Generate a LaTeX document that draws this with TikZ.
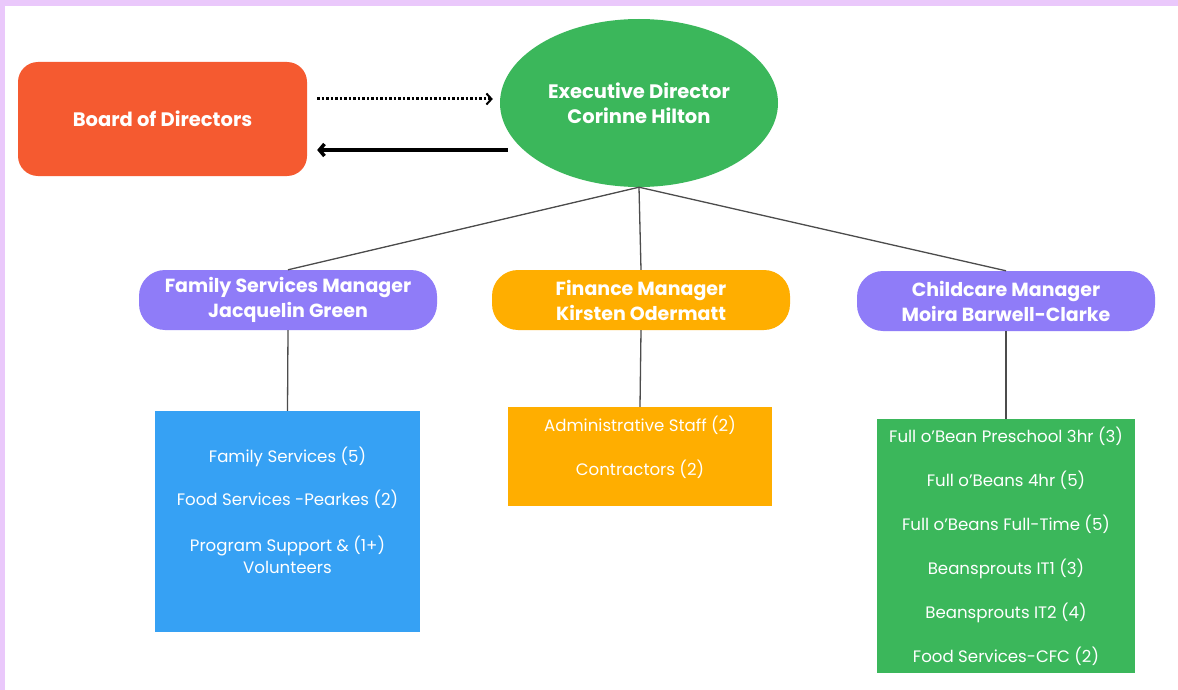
\documentclass[tikz,border=0pt]{standalone}
\usepackage{fontspec}
\setmainfont{Poppins}
\usetikzlibrary{shapes.geometric,arrows.meta}

\definecolor{boardred}{HTML}{F55A30}
\definecolor{execgreen}{HTML}{3BB75B}
\definecolor{mgrpurple}{HTML}{8F7CF8}
\definecolor{finorange}{HTML}{FFAE00}
\definecolor{staffblue}{HTML}{36A1F4}
\definecolor{framelilac}{HTML}{EAC8FB}

\begin{document}
\begin{tikzpicture}[x=1pt,y=-1pt,
    manager/.style={rounded corners=26pt,fill=#1,minimum width=298pt,minimum height=60pt,text=white,font=\fontsize{19}{25}\selectfont\bfseries,align=center},
    staff/.style={fill=#1,text=white,font=\fontsize{16.6}{22}\selectfont,align=center,inner sep=0pt},
    connector/.style={draw=black!70,line width=1.3pt}]
  % frame
  \fill[framelilac] (0,0) rectangle (1178,690);
  \fill[white] (5,6) rectangle (1178,690);
  \useasboundingbox (0,0) rectangle (1178,690);

  % top
  \node[fill=boardred,rounded corners=20pt,minimum width=289pt,minimum height=114pt,text=white,font=\fontsize{19.5}{25}\selectfont\bfseries] (board) at (162.5,119) {Board of Directors};
  \node[ellipse,fill=execgreen,minimum width=278pt,minimum height=168pt,inner sep=0pt,text=white,font=\fontsize{19.5}{25}\selectfont\bfseries,align=center] (exec) at (639,103) {Executive Director\\Corinne Hilton};
  \draw[line width=3pt,dash pattern=on 2.5pt off 2pt,-{Straight Barb[length=5pt,width=11pt,line width=2pt]}] ([shift={(10,-20)}]board.east) -- ([shift={(-7,-4)}]exec.west);
  \draw[line width=3.5pt,-{Straight Barb[length=5pt,width=12pt]}] ([shift={(8,47)}]exec.west) -- ([shift={(10,31)}]board.east);

  % managers
  \node[manager=mgrpurple] (family) at (288,300) {Family Services Manager\\Jacquelin Green};
  \node[manager=finorange] (finance) at (641,300) {Finance Manager\\Kirsten Odermatt};
  \node[manager=mgrpurple] (childcare) at (1006,301) {Childcare Manager\\Moira Barwell-Clarke};
  \draw[connector] (exec.south) -- (family.north);
  \draw[connector] (exec.south) -- (finance.north);
  \draw[connector] (exec.south) -- (childcare.north);

  % staff
  \node[staff=staffblue,minimum width=265pt,minimum height=221pt,text depth=22pt] (familystaff) at (287.5,521.5)
    {Family Services (5)\\[21pt]Food Services -Pearkes (2)\\[24pt]Program Support \& (1+)\\Volunteers};
  \node[staff=finorange,minimum width=264pt,minimum height=99pt,text depth=22pt] (financestaff) at (640,456.5)
    {Administrative Staff (2)\\[22pt]Contractors (2)};
  \node[staff=execgreen,minimum width=258pt,minimum height=254pt] (childcarestaff) at (1006,546)
    {Full o'Bean Preschool 3hr (3)\\[22pt]Full o'Beans 4hr (5)\\[22pt]Full o'Beans Full-Time (5)\\[22pt]Beansprouts IT1 (3)\\[22pt]Beansprouts IT2 (4)\\[22pt]Food Services-CFC (2)};
  \draw[connector] (family.south) -- (familystaff.north);
  \draw[connector] (finance.south) -- (financestaff.north);
  \draw[connector] (childcare.south) -- (childcarestaff.north);
\end{tikzpicture}
\end{document}
